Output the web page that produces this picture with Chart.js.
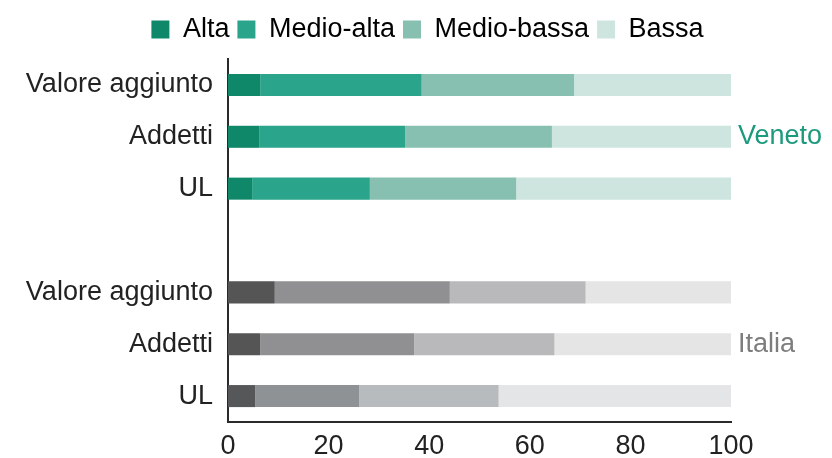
<!DOCTYPE html>
<html>
<head>
<meta charset="utf-8">
<script src="https://cdn.jsdelivr.net/npm/chart.js@4/dist/chart.umd.min.js"></script>
<style>
  html, body { margin: 0; padding: 0; background: #ffffff; }
  #wrap { width: 832px; height: 458px; }
</style>
</head>
<body>
<div id="wrap"><canvas id="c" width="832" height="458"></canvas></div>
<script>
// Rows: Veneto (top three), blank spacer, Italia (bottom three)
const categories = ['Valore aggiunto', 'Addetti', 'UL', '', 'Valore aggiunto', 'Addetti', 'UL'];
const seriesNames = ['Alta', 'Medio-alta', 'Medio-bassa', 'Bassa'];
const groupLabels = ['Veneto', 'Italia'];
const xTicks = [0, 20, 40, 60, 80, 100];

// Share (%) of each technology class, per row
const alta       = [6.4, 6.2, 4.8, null, 9.3, 6.4, 5.4];
const medioAlta  = [32.1, 29.0, 23.4, null, 34.8, 30.6, 20.7];
const medioBassa = [30.3, 29.2, 29.1, null, 27.0, 27.9, 27.7];
const bassa      = [31.2, 35.6, 42.7, null, 28.9, 35.1, 46.2];

const greens = ['#0f886a', '#2aa48a', '#87c0b1', '#cde5de'];
const greys  = ['#555555', '#909092', '#b9b9bc', '#e5e5e6'];
const greysUL = ['#555759', '#8f9294', '#b8bbbd', '#e3e5e7'];

function rowColors(k) {
  return categories.map((c, i) => {
    if (i < 3) return greens[k];
    if (i === 6) return greysUL[k];
    return greys[k];
  });
}

const FONT = "'Liberation Sans', Arial, Helvetica, sans-serif";
const seriesData = [alta, medioAlta, medioBassa, bassa];

// Extra room under the legend, and legend centred over the bars + side labels
const legendTweak = {
  id: 'legendTweak',
  afterInit(chart) {
    const lg = chart.legend;
    if (!lg) return;
    const fit = lg.fit;
    lg.fit = function () { fit.call(this); this.height += 6; };
  },
  afterLayout(chart) {
    const lg = chart.legend;
    if (!lg) return;
    const shift = 427.5 - (lg.left + lg.right) / 2;
    lg.left += shift;
    lg.right += shift;
  }
};

const groupLabelPlugin = {
  id: 'groupLabels',
  afterDraw(chart) {
    const ctx = chart.ctx;
    const y = chart.scales.y;
    const x = chart.scales.x;
    ctx.save();
    ctx.font = '27px ' + FONT;
    ctx.textAlign = 'left';
    ctx.textBaseline = 'middle';
    ctx.fillStyle = '#1c9a7d';
    ctx.fillText(groupLabels[0], x.right + 7, y.getPixelForValue(1));
    ctx.fillStyle = '#7d7d7d';
    ctx.fillText(groupLabels[1], x.right + 7, y.getPixelForValue(5));
    ctx.restore();
  }
};

new Chart(document.getElementById('c'), {
  type: 'bar',
  data: {
    labels: categories,
    datasets: seriesNames.map((name, k) => ({
      label: name,
      data: seriesData[k],
      backgroundColor: rowColors(k),
      borderWidth: 0,
      barPercentage: 1,
      categoryPercentage: 0.425
    }))
  },
  options: {
    indexAxis: 'y',
    responsive: false,
    animation: false,
    devicePixelRatio: 1,
    layout: { padding: { top: 8, left: 0, right: 101, bottom: 0 } },
    plugins: {
      tooltip: { enabled: false },
      legend: {
        position: 'top',
        labels: {
          font: { family: FONT, size: 27 },
          color: '#222222',
          boxWidth: 18,
          boxHeight: 18,
          padding: 8,
          generateLabels: () => seriesNames.map((name, k) => ({
            text: name,
            fillStyle: greens[k],
            strokeStyle: greens[k],
            lineWidth: 0,
            hidden: false,
            datasetIndex: k
          }))
        }
      }
    },
    scales: {
      x: {
        stacked: true,
        min: 0,
        max: 100,
        afterBuildTicks: (s) => { s.ticks = xTicks.map(v => ({ value: v })); },
        afterFit: (s) => { s.height = 36; },
        grid: { display: false },
        border: { display: true, color: '#2a2a2a', width: 2 },
        ticks: { font: { family: FONT, size: 27 }, color: '#222222', padding: 0, maxRotation: 0 }
      },
      y: {
        stacked: true,
        afterFit: (s) => { s.width = 228; },
        grid: { display: false },
        border: { display: true, color: '#2a2a2a', width: 2 },
        ticks: { font: { family: FONT, size: 27 }, color: '#222222', padding: 7, autoSkip: false }
      }
    }
  },
  plugins: [legendTweak, groupLabelPlugin]
});
</script>
</body>
</html>
